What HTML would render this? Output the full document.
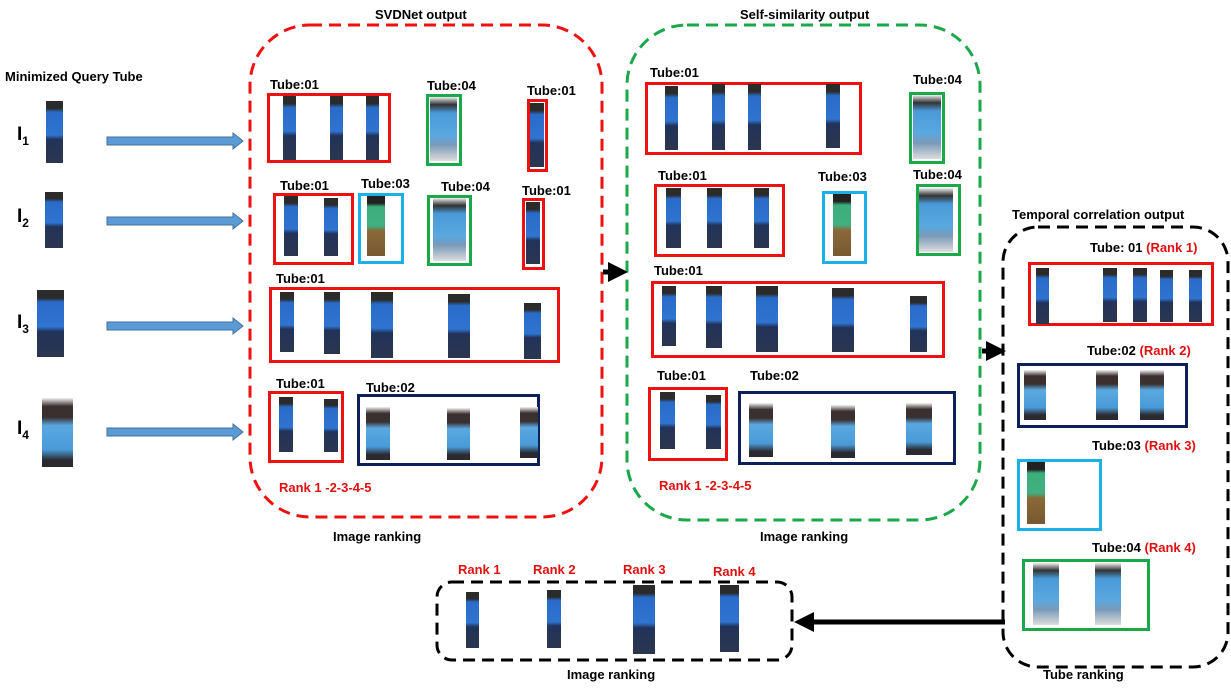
<!DOCTYPE html>
<html><head><meta charset="utf-8"><style>
body{margin:0;width:1231px;height:690px;background:#fff;position:relative;overflow:hidden;font-family:"Liberation Sans",sans-serif}
div{position:absolute;box-sizing:border-box}
.t{font-weight:bold;font-size:13px;color:#000;white-space:nowrap;line-height:16px}
.r{color:#e01010}
.b{border:3px solid}
.R{border-color:#ee1111}.G{border-color:#1aa84a}.B{border-color:#1ab0e8}.N{border-color:#0b2158}
.p{background:linear-gradient(#2b2b2b 0,#2b2b2b 12%,#2a6bc8 18%,#2f74d0 55%,#22335a 62%,#2a3550 95%);}
.q{background:linear-gradient(#f2f2f2 0,#3a3030 12%,#3a3030 28%,#5aa8e0 40%,#4a9ad8 75%,#2a2a30 90%,#2a2a30 100%);}
.g{background:linear-gradient(#222 0,#222 12%,#3cae7a 18%,#40b080 50%,#8a6a3a 58%,#7a5a30 95%);}
.w{background:linear-gradient(#eee 0,#333 12%,#4a9ad8 25%,#5aa8e0 60%,#7a9ab8 75%,#ddd 100%);}
</style></head><body>
<svg width="1231" height="690" style="position:absolute;left:0;top:0">
<defs>
<marker id="bk" markerWidth="4" markerHeight="4" refX="2" refY="2" orient="auto"><path d="M0,0L4,2L0,4z" fill="#000"/></marker>
</defs>
<rect x="250" y="25" width="352" height="492" rx="60" fill="none" stroke="#ee1111" stroke-width="3" stroke-dasharray="12,7"/>
<rect x="627" y="25" width="353" height="495" rx="60" fill="none" stroke="#1aa84a" stroke-width="3" stroke-dasharray="12,7"/>
<rect x="1003" y="227" width="225" height="440" rx="35" fill="none" stroke="#000" stroke-width="3" stroke-dasharray="12,7"/>
<rect x="437" y="582" width="355" height="78" rx="15" fill="none" stroke="#000" stroke-width="3" stroke-dasharray="12,7"/>
<g fill="#5b9bd5" stroke="#41719c" stroke-width="1">
<path d="M107,137H233V133L243,141L233,149V145H107Z"/>
<path d="M107,217H233V213L243,221L233,229V225H107Z"/>
<path d="M107,322H233V318L243,326L233,334V330H107Z"/>
<path d="M107,428H233V424L243,432L233,440V436H107Z"/>
</g>
<line x1="603" y1="272" x2="618" y2="272" stroke="#000" stroke-width="5" marker-end="url(#bk)"/>
<line x1="982" y1="351" x2="996" y2="351" stroke="#000" stroke-width="5" marker-end="url(#bk)"/>
<line x1="1005" y1="622" x2="804" y2="622" stroke="#000" stroke-width="5" marker-end="url(#bk)"/>
</svg>

<div class="t" style="left:5px;top:69px">Minimized Query Tube</div>
<div class="t" style="left:17px;top:124px;font-size:19px;line-height:22px">I<sub style="font-size:12px">1</sub></div>
<div class="t" style="left:17px;top:206px;font-size:19px;line-height:22px">I<sub style="font-size:12px">2</sub></div>
<div class="t" style="left:17px;top:312px;font-size:19px;line-height:22px">I<sub style="font-size:12px">3</sub></div>
<div class="t" style="left:17px;top:418px;font-size:19px;line-height:22px">I<sub style="font-size:12px">4</sub></div>
<div class="p" style="left:46px;top:101px;width:17px;height:62px"></div>
<div class="p" style="left:45px;top:192px;width:18px;height:56px"></div>
<div class="p" style="left:37px;top:290px;width:27px;height:67px"></div>
<div class="q" style="left:42px;top:398px;width:31px;height:69px"></div>

<div class="t" style="left:375px;top:7px">SVDNet output</div>
<div class="t" style="left:740px;top:7px">Self-similarity output</div>
<div class="t" style="left:333px;top:529px">Image ranking</div>
<div class="t" style="left:760px;top:529px">Image ranking</div>
<div class="t" style="left:1012px;top:207px">Temporal correlation output</div>
<div class="t" style="left:1043px;top:667px">Tube ranking</div>
<div class="t" style="left:567px;top:667px">Image ranking</div>

<!-- SVDNet -->
<div class="t" style="left:270px;top:77px">Tube:01</div>
<div class="b R" style="left:267px;top:93px;width:124px;height:70px"></div>
<div class="p" style="left:283px;top:96px;width:13px;height:64px"></div>
<div class="p" style="left:330px;top:96px;width:13px;height:64px"></div>
<div class="p" style="left:366px;top:96px;width:13px;height:64px"></div>
<div class="t" style="left:427px;top:78px">Tube:04</div>
<div class="b G" style="left:426px;top:94px;width:36px;height:72px"></div>
<div class="w" style="left:430px;top:97px;width:27px;height:64px"></div>
<div class="t" style="left:527px;top:83px">Tube:01</div>
<div class="b R" style="left:527px;top:99px;width:21px;height:73px"></div>
<div class="p" style="left:530px;top:103px;width:14px;height:64px"></div>

<div class="t" style="left:280px;top:178px">Tube:01</div>
<div class="b R" style="left:273px;top:193px;width:81px;height:72px"></div>
<div class="p" style="left:284px;top:196px;width:14px;height:60px"></div>
<div class="p" style="left:324px;top:198px;width:14px;height:58px"></div>
<div class="t" style="left:361px;top:176px">Tube:03</div>
<div class="b B" style="left:358px;top:193px;width:46px;height:71px"></div>
<div class="g" style="left:367px;top:196px;width:18px;height:60px"></div>
<div class="t" style="left:441px;top:179px">Tube:04</div>
<div class="b G" style="left:427px;top:195px;width:45px;height:71px"></div>
<div class="w" style="left:433px;top:198px;width:33px;height:63px"></div>
<div class="t" style="left:522px;top:183px">Tube:01</div>
<div class="b R" style="left:522px;top:198px;width:23px;height:72px"></div>
<div class="p" style="left:526px;top:202px;width:14px;height:62px"></div>

<div class="t" style="left:276px;top:271px">Tube:01</div>
<div class="b R" style="left:269px;top:287px;width:291px;height:76px"></div>
<div class="p" style="left:280px;top:292px;width:14px;height:60px"></div>
<div class="p" style="left:324px;top:292px;width:16px;height:62px"></div>
<div class="p" style="left:371px;top:292px;width:22px;height:66px"></div>
<div class="p" style="left:448px;top:294px;width:22px;height:64px"></div>
<div class="p" style="left:524px;top:303px;width:17px;height:56px"></div>

<div class="t" style="left:276px;top:376px">Tube:01</div>
<div class="b R" style="left:268px;top:391px;width:76px;height:72px"></div>
<div class="p" style="left:279px;top:397px;width:14px;height:55px"></div>
<div class="p" style="left:324px;top:399px;width:14px;height:53px"></div>
<div class="t" style="left:366px;top:380px">Tube:02</div>
<div class="b N" style="left:357px;top:394px;width:183px;height:72px"></div>
<div class="q" style="left:366px;top:407px;width:24px;height:53px"></div>
<div class="q" style="left:447px;top:408px;width:23px;height:52px"></div>
<div class="q" style="left:520px;top:407px;width:18px;height:51px"></div>
<div class="t r" style="left:279px;top:480px">Rank 1 -2-3-4-5</div>

<!-- Self-similarity -->
<div class="t" style="left:650px;top:65px">Tube:01</div>
<div class="b R" style="left:645px;top:82px;width:217px;height:73px"></div>
<div class="p" style="left:665px;top:86px;width:13px;height:64px"></div>
<div class="p" style="left:712px;top:84px;width:13px;height:66px"></div>
<div class="p" style="left:748px;top:84px;width:13px;height:66px"></div>
<div class="p" style="left:826px;top:84px;width:14px;height:64px"></div>
<div class="t" style="left:913px;top:72px">Tube:04</div>
<div class="b G" style="left:909px;top:92px;width:36px;height:72px"></div>
<div class="w" style="left:913px;top:95px;width:28px;height:64px"></div>

<div class="t" style="left:658px;top:168px">Tube:01</div>
<div class="b R" style="left:654px;top:184px;width:131px;height:73px"></div>
<div class="p" style="left:666px;top:188px;width:15px;height:60px"></div>
<div class="p" style="left:707px;top:188px;width:15px;height:60px"></div>
<div class="p" style="left:754px;top:188px;width:15px;height:60px"></div>
<div class="t" style="left:818px;top:169px">Tube:03</div>
<div class="b B" style="left:822px;top:191px;width:45px;height:73px"></div>
<div class="g" style="left:833px;top:194px;width:18px;height:62px"></div>
<div class="t" style="left:913px;top:167px">Tube:04</div>
<div class="b G" style="left:916px;top:184px;width:45px;height:72px"></div>
<div class="w" style="left:919px;top:188px;width:34px;height:64px"></div>

<div class="t" style="left:654px;top:263px">Tube:01</div>
<div class="b R" style="left:651px;top:281px;width:294px;height:77px"></div>
<div class="p" style="left:662px;top:286px;width:14px;height:60px"></div>
<div class="p" style="left:706px;top:286px;width:16px;height:62px"></div>
<div class="p" style="left:756px;top:286px;width:22px;height:66px"></div>
<div class="p" style="left:832px;top:288px;width:22px;height:64px"></div>
<div class="p" style="left:910px;top:296px;width:17px;height:56px"></div>

<div class="t" style="left:657px;top:368px">Tube:01</div>
<div class="b R" style="left:648px;top:387px;width:80px;height:74px"></div>
<div class="p" style="left:660px;top:392px;width:15px;height:57px"></div>
<div class="p" style="left:706px;top:395px;width:15px;height:54px"></div>
<div class="t" style="left:750px;top:368px">Tube:02</div>
<div class="b N" style="left:738px;top:391px;width:218px;height:74px"></div>
<div class="q" style="left:749px;top:403px;width:24px;height:54px"></div>
<div class="q" style="left:831px;top:405px;width:24px;height:53px"></div>
<div class="q" style="left:906px;top:403px;width:26px;height:52px"></div>
<div class="t r" style="left:659px;top:478px">Rank 1 -2-3-4-5</div>

<!-- Temporal -->
<div class="t" style="left:1090px;top:240px">Tube: 01 <span class="r">(Rank 1)</span></div>
<div class="b R" style="left:1028px;top:262px;width:186px;height:64px"></div>
<div class="p" style="left:1036px;top:268px;width:13px;height:56px"></div>
<div class="p" style="left:1103px;top:268px;width:14px;height:54px"></div>
<div class="p" style="left:1133px;top:268px;width:14px;height:54px"></div>
<div class="p" style="left:1160px;top:270px;width:13px;height:52px"></div>
<div class="p" style="left:1189px;top:270px;width:13px;height:52px"></div>
<div class="t" style="left:1087px;top:343px">Tube:02 <span class="r">(Rank 2)</span></div>
<div class="b N" style="left:1017px;top:363px;width:171px;height:65px"></div>
<div class="q" style="left:1024px;top:370px;width:22px;height:50px"></div>
<div class="q" style="left:1096px;top:370px;width:22px;height:50px"></div>
<div class="q" style="left:1140px;top:370px;width:24px;height:50px"></div>
<div class="t" style="left:1092px;top:438px">Tube:03 <span class="r">(Rank 3)</span></div>
<div class="b B" style="left:1017px;top:459px;width:85px;height:72px"></div>
<div class="g" style="left:1027px;top:462px;width:18px;height:62px"></div>
<div class="t" style="left:1092px;top:540px">Tube:04 <span class="r">(Rank 4)</span></div>
<div class="b G" style="left:1022px;top:559px;width:128px;height:72px"></div>
<div class="w" style="left:1033px;top:563px;width:26px;height:62px"></div>
<div class="w" style="left:1095px;top:563px;width:26px;height:62px"></div>

<!-- bottom -->
<div class="t r" style="left:458px;top:562px">Rank 1</div>
<div class="t r" style="left:533px;top:562px">Rank 2</div>
<div class="t r" style="left:623px;top:562px">Rank 3</div>
<div class="t r" style="left:713px;top:564px">Rank 4</div>
<div class="p" style="left:466px;top:592px;width:13px;height:56px"></div>
<div class="p" style="left:547px;top:590px;width:14px;height:58px"></div>
<div class="p" style="left:633px;top:585px;width:22px;height:69px"></div>
<div class="p" style="left:720px;top:585px;width:19px;height:67px"></div>
</body></html>
